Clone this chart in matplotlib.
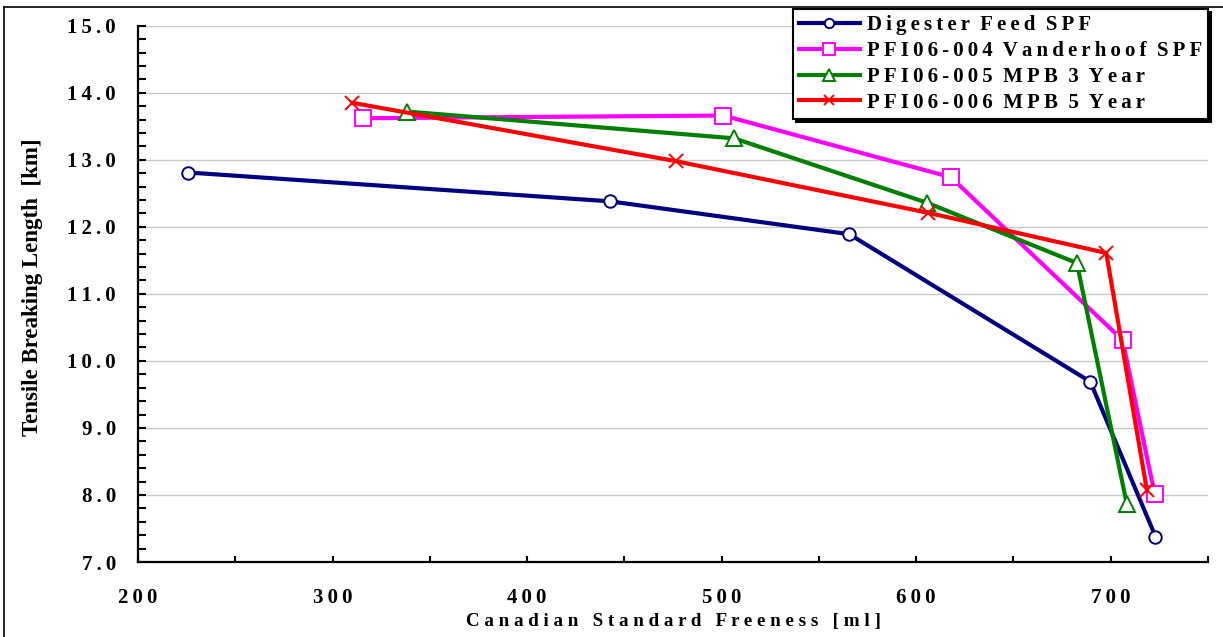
import matplotlib
matplotlib.use("Agg")
import matplotlib.pyplot as plt
from matplotlib.ticker import MultipleLocator, FixedLocator
from matplotlib.lines import Line2D

# data
digester_x = [225.9, 442.7, 565.6, 689.5, 723.0]
digester_y = [12.81, 12.38, 11.89, 9.69, 7.38]

vanderhoof_x = [315.5, 500.9, 617.8, 706.1, 722.5]
vanderhoof_y = [13.62, 13.66, 12.74, 10.31, 8.02]

mpb3_x = [338.1, 506.4, 605.5, 682.6, 708.3]
mpb3_y = [13.72, 13.32, 12.36, 11.46, 7.86]

mpb5_x = [310.2, 476.4, 606.0, 697.7, 718.6]
mpb5_y = [13.85, 12.98, 12.21, 11.61, 8.07]

labels = ["Digester Feed SPF", "PFI06-004 Vanderhoof SPF",
          "PFI06-005 MPB 3 Year", "PFI06-006 MPB 5 Year"]

x_ticks = [200, 300, 400, 500, 600, 700]
y_ticks = [7.0, 8.0, 9.0, 10.0, 11.0, 12.0, 13.0, 14.0, 15.0]

plt.rcParams['font.family'] = ['Liberation Serif', 'DejaVu Serif']
plt.rcParams['font.weight'] = 'bold'
plt.rcParams['axes.labelweight'] = 'bold'

TS = "\u2009"  # thin space


def spaced(s, gap=TS, wgap=" " + TS):
    # fake letter spacing like the original Excel chart
    return wgap.join(gap.join(w) for w in s.split(" "))


fig = plt.figure(figsize=(12.23, 6.37), dpi=100)
ax = fig.add_axes([138 / 1223, 1 - 562 / 637, 1070 / 1223, (562 - 25.7) / 637])

series = [
    (digester_x, digester_y, '#000080', 'o', 9),
    (vanderhoof_x, vanderhoof_y, '#FF00FF', 's', 11),
    (mpb3_x, mpb3_y, '#008000', '^', 11),
    (mpb5_x, mpb5_y, '#FF0000', 'x', 10),
]
handles = []
for (xs, ys, col, mk, ms), lab in zip(series, labels):
    ln, = ax.plot(xs, ys, color=col, lw=3.0, marker=mk, ms=ms,
                  mfc='white' if mk != 'x' else col, mec=col, mew=1.4,
                  label=spaced(lab, wgap="  "), zorder=3, clip_on=False)
    handles.append(ln)

ax.set_xlim(200, 750)
ax.set_ylim(7.0, 15.0)

ax.xaxis.set_major_locator(FixedLocator(x_ticks))
ax.xaxis.set_minor_locator(MultipleLocator(50))
ax.yaxis.set_major_locator(FixedLocator(y_ticks))
ax.yaxis.set_minor_locator(MultipleLocator(0.2))
ax.set_xticklabels([spaced(str(v)) for v in x_ticks])
ax.set_yticklabels([spaced(f"{v:.1f}") for v in y_ticks])

ax.tick_params(axis='both', which='both', direction='in', width=1.5, colors='black')
ax.tick_params(axis='y', which='both', length=6, pad=16, labelsize=15)
ax.tick_params(axis='x', which='both', length=4, pad=19, labelsize=15)

ax.grid(axis='y', which='major', color='#c8c8c8', lw=1.0)
ax.set_axisbelow(True)
for side in ['top', 'right']:
    ax.spines[side].set_visible(False)
for side in ['left', 'bottom']:
    ax.spines[side].set_linewidth(1.6)

ax.set_xlabel(spaced("Canadian Standard Freeness [ml]", gap=" ", wgap="   "),
              fontsize=13.7, labelpad=3)
ax.set_ylabel("Tensile Breaking Length  [km]", fontsize=16.5)
ax.yaxis.set_label_coords(-0.089, 0.513)

leg = fig.legend(handles=handles, loc='upper left',
                 bbox_to_anchor=(793 / 1223, 1 - 9 / 637),
                 fontsize=15, frameon=True, fancybox=False, markerscale=0.75,
                 shadow={'color': 'black', 'alpha': 1.0},
                 edgecolor='black', handlelength=2.9, handletextpad=0.35,
                 labelspacing=0.28, borderpad=0.3, borderaxespad=0)
leg.get_frame().set_linewidth(1.5)

# outer chart border (top and left visible in the reference)
fig.add_artist(Line2D([4 / 1223, 4 / 1223], [0, 1 - 7 / 637], color='black', lw=1.2))
fig.add_artist(Line2D([4 / 1223, 1], [1 - 7 / 637, 1 - 7 / 637], color='black', lw=1.2))

fig.savefig("out.png", dpi=100)
